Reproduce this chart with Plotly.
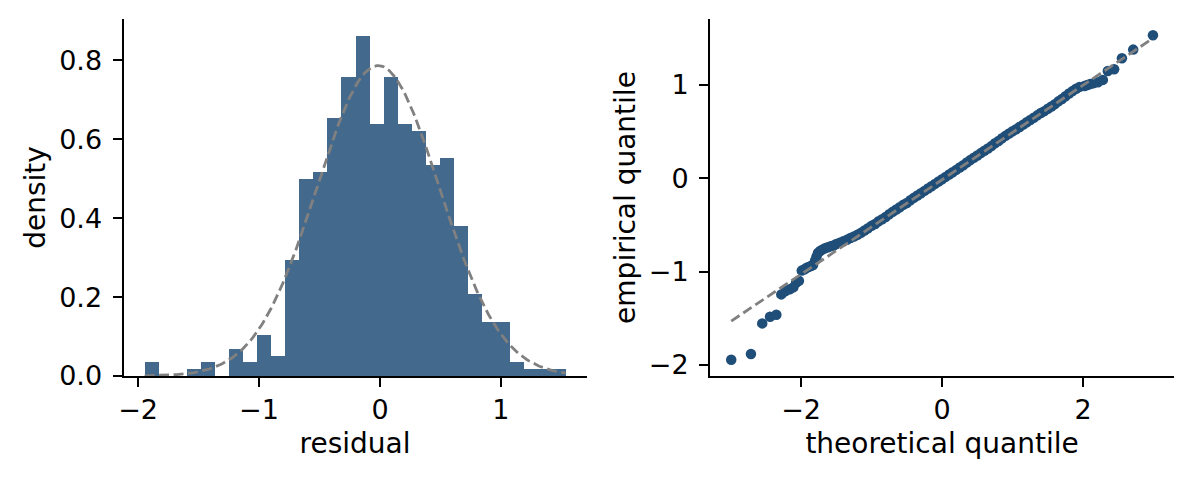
import numpy as np
import plotly.graph_objects as go

# residual histogram, 30 equal bins between the min and max residual (n = 500)
bin_lo = -1.946
bin_hi = 1.534
bin_counts = [2, 0, 0, 1, 2, 0, 4, 2, 6, 3, 17, 29, 30, 38, 44,
              50, 37, 44, 37, 36, 31, 32, 22, 12, 8, 8, 2, 1, 1, 1]
n_samples = 500

# fitted normal (used for the pdf curve and the qq reference line)
mu = -0.015
sigma = 0.507

# qq plot
theo_q = [-2.99, -2.71, -2.55, -2.44, -2.35, -2.28, -2.22, -2.16, -2.11, -2.07,
          -2.03, -1.99, -1.95, -1.92, -1.89, -1.86, -1.83, -1.80, -1.78, -1.76,
          -1.73, -1.70, -1.66, -1.62, -1.58, -1.54, -1.50, -1.45, -1.40, -1.35,
          -1.30, -1.25, -1.20, -1.15, -1.10, -1.05, -1.00, -0.95, -0.90, -0.85,
          -0.80, -0.75, -0.70, -0.65, -0.60, -0.55, -0.50, -0.45, -0.40, -0.35,
          -0.30, -0.25, -0.20, -0.15, -0.10, -0.05, 0.00, 0.05, 0.10, 0.15,
          0.20, 0.25, 0.30, 0.35, 0.40, 0.45, 0.50, 0.55, 0.60, 0.65,
          0.70, 0.75, 0.80, 0.85, 0.90, 0.95, 1.00, 1.05, 1.10, 1.15,
          1.20, 1.25, 1.30, 1.35, 1.40, 1.45, 1.50, 1.55, 1.60, 1.65,
          1.70, 1.75, 1.80, 1.85, 1.90, 1.95, 2.02, 2.06, 2.10, 2.15,
          2.21, 2.28, 2.35, 2.44, 2.55, 2.71, 2.99]
emp_q = [-1.946, -1.885, -1.556, -1.485, -1.463, -1.245, -1.21, -1.19, -1.17, -1.12,
         -1.10, -0.99, -0.975, -0.96, -0.95, -0.94, -0.93, -0.88, -0.84, -0.80,
         -0.78, -0.765, -0.75, -0.74, -0.73, -0.72, -0.705, -0.69, -0.675, -0.66,
         -0.64, -0.625, -0.605, -0.585, -0.56, -0.535, -0.51, -0.49, -0.46, -0.44,
         -0.415, -0.385, -0.36, -0.335, -0.31, -0.285, -0.265, -0.235, -0.21, -0.185,
         -0.16, -0.135, -0.11, -0.085, -0.06, -0.035, -0.01, 0.015, 0.04, 0.065,
         0.09, 0.115, 0.14, 0.17, 0.195, 0.22, 0.245, 0.27, 0.295, 0.32,
         0.345, 0.375, 0.40, 0.43, 0.455, 0.48, 0.505, 0.525, 0.55, 0.575,
         0.60, 0.625, 0.65, 0.675, 0.70, 0.72, 0.745, 0.77, 0.795, 0.825,
         0.85, 0.88, 0.91, 0.935, 0.96, 0.98, 0.99, 1.00, 1.01, 1.02,
         1.03, 1.055, 1.15, 1.17, 1.287, 1.38, 1.534]

edges = np.linspace(bin_lo, bin_hi, len(bin_counts) + 1)
bin_w = edges[1] - edges[0]
centers = (edges[:-1] + edges[1:]) / 2
density = np.array(bin_counts) / (n_samples * bin_w)

xs = np.linspace(bin_lo, bin_hi, 300)
pdf = np.exp(-0.5 * ((xs - mu) / sigma) ** 2) / (sigma * np.sqrt(2 * np.pi))

line_x = np.array([theo_q[0], theo_q[-1]])
line_y = mu + sigma * line_x

dash_style = "10px,4.5px"
W, H = 1192, 479
off = 8  # the page body adds 8px on the left and top

fig = go.Figure(
    data=[
        go.Bar(x=centers, y=density, width=bin_w,
               marker=dict(color='#43698c', line=dict(width=0)),
               xaxis='x', yaxis='y', showlegend=False),
        go.Scatter(x=xs, y=pdf, mode='lines',
                   line=dict(color='gray', width=2.8, dash=dash_style),
                   xaxis='x', yaxis='y', showlegend=False),
        go.Scatter(x=theo_q, y=emp_q, mode='markers',
                   marker=dict(color='#1f4e79', size=10.5, line=dict(width=0)),
                   xaxis='x2', yaxis='y2', showlegend=False),
        go.Scatter(x=line_x, y=line_y, mode='lines',
                   line=dict(color='gray', width=2.8, dash=dash_style),
                   xaxis='x2', yaxis='y2', showlegend=False),
    ]
)

axis_style = dict(showline=True, linecolor='black', linewidth=2, ticks='outside',
                  ticklen=9, tickwidth=2, tickcolor='black', showgrid=False,
                  zeroline=False, color='black', tickfont=dict(size=27))

fig.update_layout(
    width=W, height=H,
    margin=dict(l=0, r=0, t=19 - off, b=H - 376 + off),
    plot_bgcolor='white', paper_bgcolor='white',
    bargap=0,
    font=dict(family="DejaVu Sans", size=23, color='black'),
    xaxis=dict(domain=[(119 - off) / W, (584 - off) / W], range=[-2.12, 1.708], tickvals=[-2, -1, 0, 1],
               title=dict(text='residual', standoff=9), anchor='y', **axis_style),
    yaxis=dict(domain=[0, 1], range=[0, 0.905], tickvals=[0, 0.2, 0.4, 0.6, 0.8],
               tickformat='.1f', title=dict(text='density', standoff=5), anchor='x',
               ticklabelstandoff=5, **axis_style),
    xaxis2=dict(domain=[(708 - off) / W, (1174 - off) / W], range=[-3.29, 3.29], tickvals=[-2, 0, 2],
                title=dict(text='theoretical quantile', standoff=9), anchor='y2', **axis_style),
    yaxis2=dict(domain=[0, 1], range=[-2.12, 1.708], tickvals=[-2, -1, 0, 1],
                title=dict(text='empirical quantile', standoff=5), anchor='x2',
                ticklabelstandoff=5, **axis_style),
)

fig.write_html("out.html")
